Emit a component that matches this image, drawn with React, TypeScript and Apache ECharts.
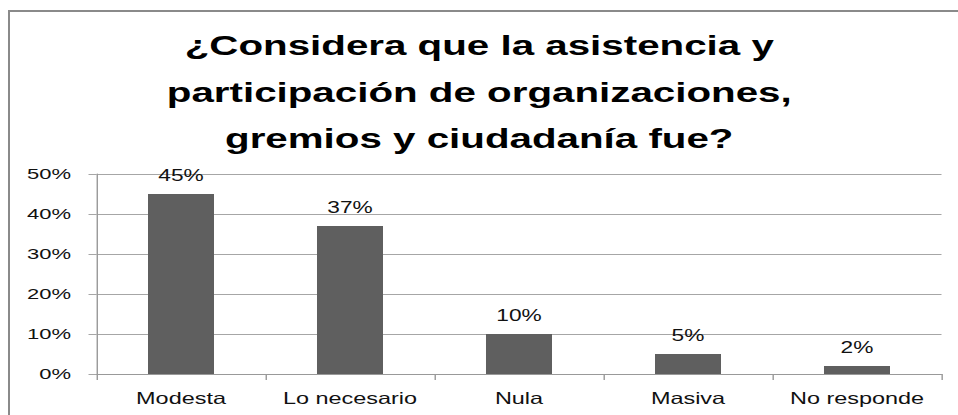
import React, { useEffect, useRef } from "react";
import * as echarts from "echarts";

const titleText = "¿Considera que la asistencia y\nparticipación de organizaciones,\ngremios y ciudadanía fue?";
const categories = ["Modesta", "Lo necesario", "Nula", "Masiva", "No responde"];
const values = [45, 37, 10, 5, 2];
const yTicks = [0, 10, 20, 30, 40, 50];

const OUT_W = 958;
const OUT_H = 415;
const S = 1.42; // horizontal stretch of the reference rendering
const W = OUT_W / S;
const FONT = "'Liberation Sans', Arial, sans-serif";

export default function App() {
  const ref = useRef<HTMLDivElement>(null);

  useEffect(() => {
    if (!ref.current) return;
    const chart = echarts.init(ref.current, null, { renderer: "svg" });
    const gridLeft = 96.5 / S;
    const gridRight = W - 941 / S;
    chart.setOption({
      animation: false,
      backgroundColor: "#ffffff",
      title: {
        text: titleText,
        left: "center",
        top: 22,
        padding: 0,
        textStyle: {
          fontFamily: FONT,
          fontWeight: "bold",
          fontSize: 28.4,
          lineHeight: 46.5,
          color: "#000000",
        },
      },
      graphic: [
        {
          type: "line",
          shape: { x1: 9 / S, y1: 10, x2: 9 / S, y2: OUT_H },
          style: { stroke: "#8a8a8a", lineWidth: 2 / S },
        },
        {
          type: "line",
          shape: { x1: 8 / S, y1: 11, x2: W, y2: 11 },
          style: { stroke: "#8a8a8a", lineWidth: 2 },
        },
      ],
      grid: {
        left: gridLeft,
        right: gridRight,
        top: 174,
        bottom: OUT_H - 374,
        containLabel: false,
      },
      xAxis: {
        type: "category",
        data: categories,
        boundaryGap: true,
        axisLine: { show: true, lineStyle: { color: "#999999", width: 1 } },
        axisTick: {
          show: true,
          alignWithLabel: false,
          length: 6,
          lineStyle: { color: "#999999" },
        },
        axisLabel: {
          margin: 16,
          fontFamily: FONT,
          fontSize: 16.5,
          color: "#111111",
          interval: 0,
        },
        splitLine: { show: false },
      },
      yAxis: {
        type: "value",
        min: yTicks[0],
        max: yTicks[yTicks.length - 1],
        interval: 10,
        axisLine: { show: true, lineStyle: { color: "#999999", width: 1 } },
        axisTick: { show: true, length: 8 / S, lineStyle: { color: "#a6a6a6" } },
        axisLabel: {
          margin: 18,
          fontFamily: FONT,
          fontSize: 15.5,
          color: "#111111",
          formatter: "{value}%",
        },
        splitLine: { show: true, lineStyle: { color: "#a6a6a6", width: 1 } },
      },
      series: [
        {
          type: "bar",
          data: values,
          barWidth: 66 / S,
          itemStyle: { color: "#5f5f5f" },
          label: {
            show: true,
            position: "top",
            distance: 11,
            fontFamily: FONT,
            fontSize: 16,
            color: "#111111",
            formatter: "{c}%",
          },
        },
      ],
    });
    return () => chart.dispose();
  }, []);

  return (
    <div
      style={{
        position: "fixed",
        left: 0,
        top: 0,
        width: OUT_W,
        height: OUT_H,
        overflow: "hidden",
        background: "#ffffff",
      }}
    >
      <div
        ref={ref}
        style={{
          width: W,
          height: OUT_H,
          transform: `scaleX(${S})`,
          transformOrigin: "0 0",
        }}
      />
    </div>
  );
}
